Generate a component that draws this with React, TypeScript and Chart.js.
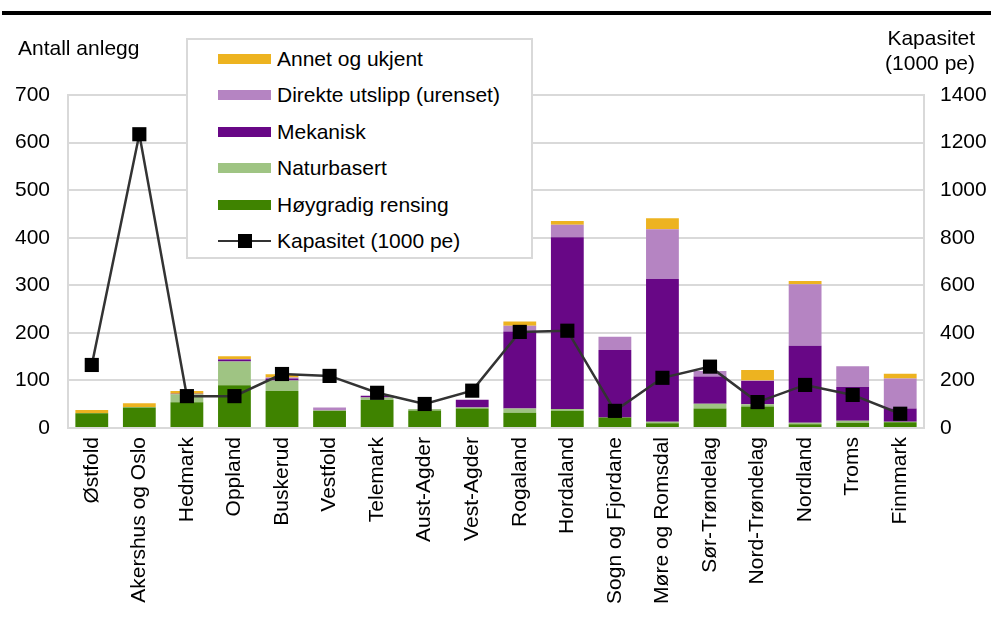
import React, { useEffect, useRef } from "react";
import { Chart, registerables } from "chart.js";

Chart.register(...registerables);

const categories = [
  "Østfold", "Akershus og Oslo", "Hedmark", "Oppland", "Buskerud", "Vestfold",
  "Telemark", "Aust-Agder", "Vest-Agder", "Rogaland", "Hordaland",
  "Sogn og Fjordane", "Møre og Romsdal", "Sør-Trøndelag", "Nord-Trøndelag",
  "Nordland", "Troms", "Finnmark",
];

const hoygradig = [31, 43, 54, 90, 78, 36, 59, 37, 41, 32, 36, 22, 10, 41, 45, 8, 11, 12];
const naturbasert = [0, 1, 17, 50, 22, 1, 5, 3, 2, 9, 4, 0, 3, 10, 5, 3, 4, 1];
const mekanisk = [0, 0, 1, 4, 4, 0, 4, 0, 16, 162, 361, 142, 300, 57, 49, 162, 71, 28];
const direkte = [0, 0, 0, 1, 2, 6, 0, 0, 1, 12, 26, 28, 105, 12, 1, 129, 44, 63];
const annet = [7, 8, 6, 6, 7, 0, 0, 0, 0, 9, 8, 0, 23, 0, 22, 7, 0, 10];
const kapasitet = [265, 1235, 134, 134, 227, 219, 148, 101, 157, 404, 409, 72, 211, 258, 109, 181, 139, 60];

const leftTicks = [0, 100, 200, 300, 400, 500, 600, 700];
const rightTicks = [0, 200, 400, 600, 800, 1000, 1200, 1400];

const COLORS = {
  annet: "#EDB320",
  direkte: "#B584C2",
  mekanisk: "#680786",
  naturbasert: "#9FC483",
  hoygradig: "#3F8300",
  line: "#333333",
};

const FONT = "'Liberation Sans', Arial, sans-serif";

const legendItems = [
  { label: "Annet og ukjent", color: COLORS.annet, type: "bar" },
  { label: "Direkte utslipp (urenset)", color: COLORS.direkte, type: "bar" },
  { label: "Mekanisk", color: COLORS.mekanisk, type: "bar" },
  { label: "Naturbasert", color: COLORS.naturbasert, type: "bar" },
  { label: "Høygradig rensing", color: COLORS.hoygradig, type: "bar" },
  { label: "Kapasitet (1000 pe)", color: "#000", type: "line" },
];

export default function App() {
  const canvasRef = useRef<HTMLCanvasElement | null>(null);

  useEffect(() => {
    const ctx = canvasRef.current;
    if (!ctx) return;
    const barCommon = {
      type: "bar" as const,
      yAxisID: "y",
      stack: "s",
      order: 1,
      barPercentage: 0.69,
      categoryPercentage: 1,
      borderWidth: 0,
    };
    const chart = new Chart(ctx, {
      type: "bar",
      data: {
        labels: categories,
        datasets: [
          {
            type: "line",
            label: "Kapasitet (1000 pe)",
            data: kapasitet,
            yAxisID: "y1",
            order: 0,
            borderColor: COLORS.line,
            borderWidth: 2.5,
            tension: 0,
            pointStyle: "rect",
            pointRadius: 10,
            pointBackgroundColor: "#000",
            pointBorderWidth: 0,
          } as any,
          { ...barCommon, label: "Høygradig rensing", data: hoygradig, backgroundColor: COLORS.hoygradig },
          { ...barCommon, label: "Naturbasert", data: naturbasert, backgroundColor: COLORS.naturbasert },
          { ...barCommon, label: "Mekanisk", data: mekanisk, backgroundColor: COLORS.mekanisk },
          { ...barCommon, label: "Direkte utslipp (urenset)", data: direkte, backgroundColor: COLORS.direkte },
          { ...barCommon, label: "Annet og ukjent", data: annet, backgroundColor: COLORS.annet },
        ],
      },
      options: {
        animation: false,
        responsive: true,
        maintainAspectRatio: false,
        layout: { padding: { top: 95, left: 0, right: 0, bottom: 0 } },
        plugins: { legend: { display: false }, tooltip: { enabled: false }, title: { display: false } },
        scales: {
          x: {
            stacked: true,
            grid: { display: false, drawTicks: false },
            border: { display: true, color: "#D9D9D9", width: 2 },
            ticks: {
              autoSkip: false,
              minRotation: 90,
              maxRotation: 90,
              padding: 9,
              color: "#000",
              font: { family: FONT, size: 21 },
            },
            afterFit: (s: any) => { s.height = 617 - 428; },
          },
          y: {
            stacked: true,
            position: "left",
            min: 0,
            max: 700,
            afterBuildTicks: (s: any) => { s.ticks = leftTicks.map((v) => ({ value: v })); },
            grid: { color: "#D9D9D9", lineWidth: 2, drawTicks: false },
            border: { display: true, color: "#D9D9D9", width: 2 },
            ticks: { padding: 18, color: "#000", font: { family: FONT, size: 21 }, callback: (v: any) => String(v) },
            afterFit: (s: any) => { s.width = 68; },
          },
          y1: {
            position: "right",
            min: 0,
            max: 1400,
            afterBuildTicks: (s: any) => { s.ticks = rightTicks.map((v) => ({ value: v })); },
            grid: { display: false, drawTicks: false },
            border: { display: true, color: "#D9D9D9", width: 2 },
            ticks: { padding: 16, color: "#000", font: { family: FONT, size: 21 }, callback: (v: any) => String(v) },
            afterFit: (s: any) => { s.width = 991 - 924; },
          },
        },
      },
    });
    return () => chart.destroy();
  }, []);

  const textStyle: React.CSSProperties = {
    position: "absolute",
    fontFamily: FONT,
    fontSize: 21,
    lineHeight: "21px",
    color: "#000",
    whiteSpace: "nowrap",
  };

  return (
    <div style={{ position: "absolute", left: 0, top: 0, width: 991, height: 617, background: "#fff", overflow: "hidden" }}>
      <canvas ref={canvasRef} style={{ position: "absolute", left: 0, top: 0, width: 991, height: 617 }} />
      <div style={{ position: "absolute", left: 2, top: 11, width: 989, height: 4, background: "#000" }} />
      <div style={{ ...textStyle, left: 18, top: 37 }}>Antall anlegg</div>
      <div style={{ ...textStyle, right: 16, top: 25, textAlign: "right", lineHeight: "25px" }}>
        Kapasitet
        <br />
        (1000 pe)
      </div>
      <div
        style={{
          position: "absolute",
          left: 186,
          top: 38,
          width: 343,
          height: 217,
          border: "2px solid #D9D9D9",
          background: "#fff",
        }}
      >
        {legendItems.map((it, i) => {
          const cy = 19 + i * 36.4;
          return (
            <div key={it.label}>
              {it.type === "bar" ? (
                <div style={{ position: "absolute", left: 30, top: cy - 5, width: 53, height: 10, background: it.color }} />
              ) : (
                <>
                  <div style={{ position: "absolute", left: 30, top: cy - 1.25, width: 53, height: 2.5, background: COLORS.line }} />
                  <div style={{ position: "absolute", left: 49.5, top: cy - 7, width: 14, height: 14, background: "#000" }} />
                </>
              )}
              <div style={{ ...textStyle, left: 89, top: cy - 11 }}>{it.label}</div>
            </div>
          );
        })}
      </div>
    </div>
  );
}
